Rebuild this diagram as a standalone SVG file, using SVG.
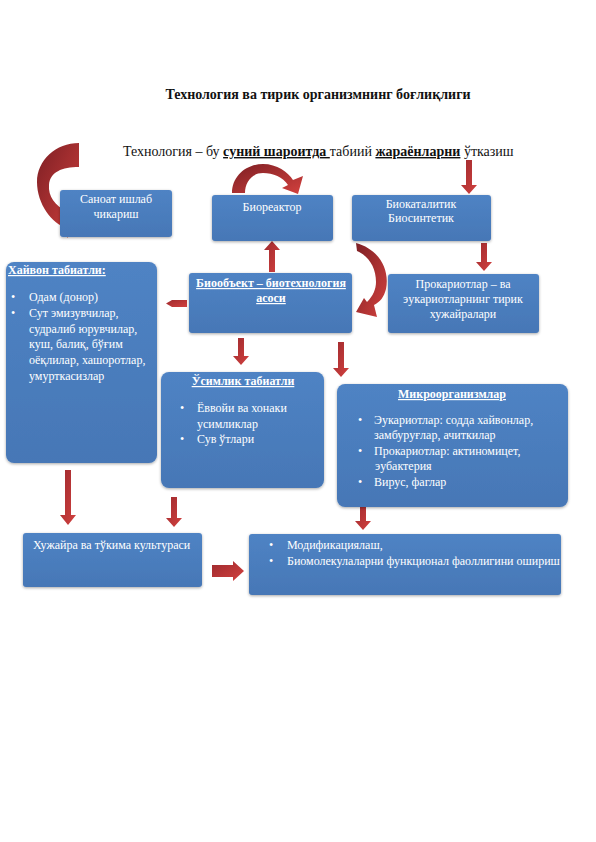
<svg xmlns="http://www.w3.org/2000/svg" width="596" height="842" viewBox="0 0 596 842">
<defs>
<linearGradient id="bx" x1="0" y1="0" x2="0" y2="1"><stop offset="0" stop-color="#4f83c4"/><stop offset="1" stop-color="#4677b6"/></linearGradient>
<linearGradient id="ar" x1="0" y1="0" x2="1" y2="1"><stop offset="0" stop-color="#9e2a2e"/><stop offset="1" stop-color="#d2413f"/></linearGradient>
<linearGradient id="cv" x1="0" y1="0" x2="1" y2="1"><stop offset="0" stop-color="#7d1f24"/><stop offset="1" stop-color="#d3413e"/></linearGradient>
<filter id="gl" x="-10%" y="-10%" width="120%" height="120%"><feGaussianBlur in="SourceAlpha" stdDeviation="1.5"/><feOffset dx="0" dy="0.5"/><feComponentTransfer><feFuncA type="linear" slope="0.35"/></feComponentTransfer><feMerge><feMergeNode/><feMergeNode in="SourceGraphic"/></feMerge></filter>
</defs>
<style>
.box{fill:url(#bx);filter:url(#gl)}
.t{font-family:"Liberation Serif","Times New Roman",serif;font-size:12px;fill:#ffffff}
.c{text-anchor:middle}
.b{font-weight:bold;text-decoration:underline}
.arr{fill:url(#ar)}
.crv{fill:url(#cv)}
.h{font-family:"Liberation Serif","Times New Roman",serif;fill:#111111}
</style>
<rect width="596" height="842" fill="#ffffff"/>
<text class="h" x="318" y="99" font-size="14" font-weight="bold" text-anchor="middle">Технология ва тирик организмнинг боғлиқлиги</text>
<text class="h" x="123" y="156" font-size="14">Технология – бу <tspan font-weight="bold" text-decoration="underline">суний шароитда </tspan>табиий <tspan font-weight="bold" text-decoration="underline">жараёнларни</tspan> ўтказиш</text>

<g id="connectors">
<path class="crv" d="M79,143 C56,143 37,160 37,182 C37,204 52,224 67,228 L67,238 L82,219 L67,200 L67,211 C55,206 48,196 49,185 C50,172 62,167 79,167 Z"/>
<path class="crv" d="M232,193 C232,176 246,164 263,164 C277,164 288,172 293,180 L303,176 L298,194 L282,188 L288,185 C283,177 273,173 263,173 C252,173 245,182 245,193 Z"/>
<path class="crv" d="M356,243 C378,249 390,268 386,289 C384,297 380,302 374,305 L377,317 L356,312 L364,298 L367,302 C373,296 376,289 376,282 C376,268 369,256 357,251 Z"/>
<polygon class="arr" points="466,160 472,160 472,185 477,185 469,194 461,185 466,185"/>
<polygon class="arr" points="269,272 275,272 275,250 280,250 272,241 264,250 269,250"/>
<polygon class="arr" points="481,243 487,243 487,262 492,262 484,271 476,262 481,262"/>
<polygon class="arr" points="187,300 187,307 172,307 166,303.5 172,300"/>
<polygon class="arr" points="238,338 244,338 244,356 249,356 241,365 233,356 238,356"/>
<polygon class="arr" points="338,342 344,342 344,368 349,368 341,377 333,368 338,368"/>
<polygon class="arr" points="65,470 71,470 71,515 76,515 68,525 60,515 65,515"/>
<polygon class="arr" points="171,497 177,497 177,518 182,518 174,527 166,518 171,518"/>
<polygon class="arr" points="360,503 366,503 366,521 371,521 363,530 355,521 360,521"/>
<polygon class="arr" points="212,565 233,565 233,561 244,571 233,581 233,577 212,577"/>
</g>

<g id="n-sanoat">
<rect class="box" x="60" y="190" width="112" height="47" rx="3"/>
<text class="t c" x="116" y="203">Саноат ишлаб</text>
<text class="t c" x="116" y="218">чикариш</text>
</g>
<g id="n-bioreaktor">
<rect class="box" x="212" y="195" width="121" height="46" rx="3"/>
<text class="t c" x="272" y="211" font-size="13">Биореактор</text>
</g>
<g id="n-biokatalitik">
<rect class="box" x="352" y="195" width="139" height="46" rx="3"/>
<text class="t c" x="421" y="208">Биокаталитик</text>
<text class="t c" x="421" y="222">Биосинтетик</text>
</g>
<g id="n-hayvon">
<rect class="box" x="6" y="262" width="151" height="201" rx="8"/>
<text class="t b" x="8" y="274">Хайвон табиатли:</text>
<text class="t" x="11" y="301">•</text>
<text class="t" x="29" y="301">Одам (донор)</text>
<text class="t" x="11" y="317">•</text>
<text class="t" x="29" y="317">Сут эмизувчилар,</text>
<text class="t" x="29" y="333">судралиб юрувчилар,</text>
<text class="t" x="29" y="348">куш, балиқ, бўғим</text>
<text class="t" x="29" y="364">оёқлилар, хашоротлар,</text>
<text class="t" x="29" y="380">умурткасизлар</text>
</g>
<g id="n-bioobekt">
<rect class="box" x="189" y="273" width="163" height="60" rx="3"/>
<text class="t c b" x="271" y="287">Биообъект – биотехнология</text>
<text class="t c b" x="271" y="302">асоси</text>
</g>
<g id="n-prokariot">
<rect class="box" x="388" y="274" width="151" height="59" rx="3"/>
<text class="t c" x="463" y="288">Прокариотлар – ва</text>
<text class="t c" x="463" y="303">эукариотларнинг тирик</text>
<text class="t c" x="463" y="318">хужайралари</text>
</g>
<g id="n-usimlik">
<rect class="box" x="161" y="372" width="163" height="116" rx="8"/>
<text class="t c b" x="243" y="385">Ўсимлик табиатли</text>
<text class="t" x="180" y="412">•</text>
<text class="t" x="197" y="412">Ёввойи ва хонаки</text>
<text class="t" x="197" y="428">усимликлар</text>
<text class="t" x="180" y="443">•</text>
<text class="t" x="197" y="443">Сув ўтлари</text>
</g>
<g id="n-mikro">
<rect class="box" x="337" y="384" width="231" height="123" rx="8"/>
<text class="t c b" x="452" y="398">Микроорганизмлар</text>
<text class="t" x="358" y="424">•</text>
<text class="t" x="374" y="424">Эукариотлар: содда хайвонлар,</text>
<text class="t" x="374" y="439">замбуруғлар, ачиткилар</text>
<text class="t" x="358" y="455">•</text>
<text class="t" x="374" y="455">Прокариотлар: актиномицет,</text>
<text class="t" x="375" y="470">эубактерия</text>
<text class="t" x="358" y="486">•</text>
<text class="t" x="374" y="486">Вирус, фаглар</text>
</g>
<g id="n-hujayra">
<rect class="box" x="23" y="533" width="179" height="54" rx="3"/>
<text class="t" x="33" y="549">Хужайра ва тўкима культураси</text>
</g>
<g id="n-modif">
<rect class="box" x="249" y="534" width="312" height="61" rx="3"/>
<text class="t" x="269" y="549">•</text>
<text class="t" x="287" y="549">Модификациялаш,</text>
<text class="t" x="269" y="565">•</text>
<text class="t" x="287" y="565">Биомолекулаларни функционал фаоллигини ошириш</text>
</g>
</svg>
